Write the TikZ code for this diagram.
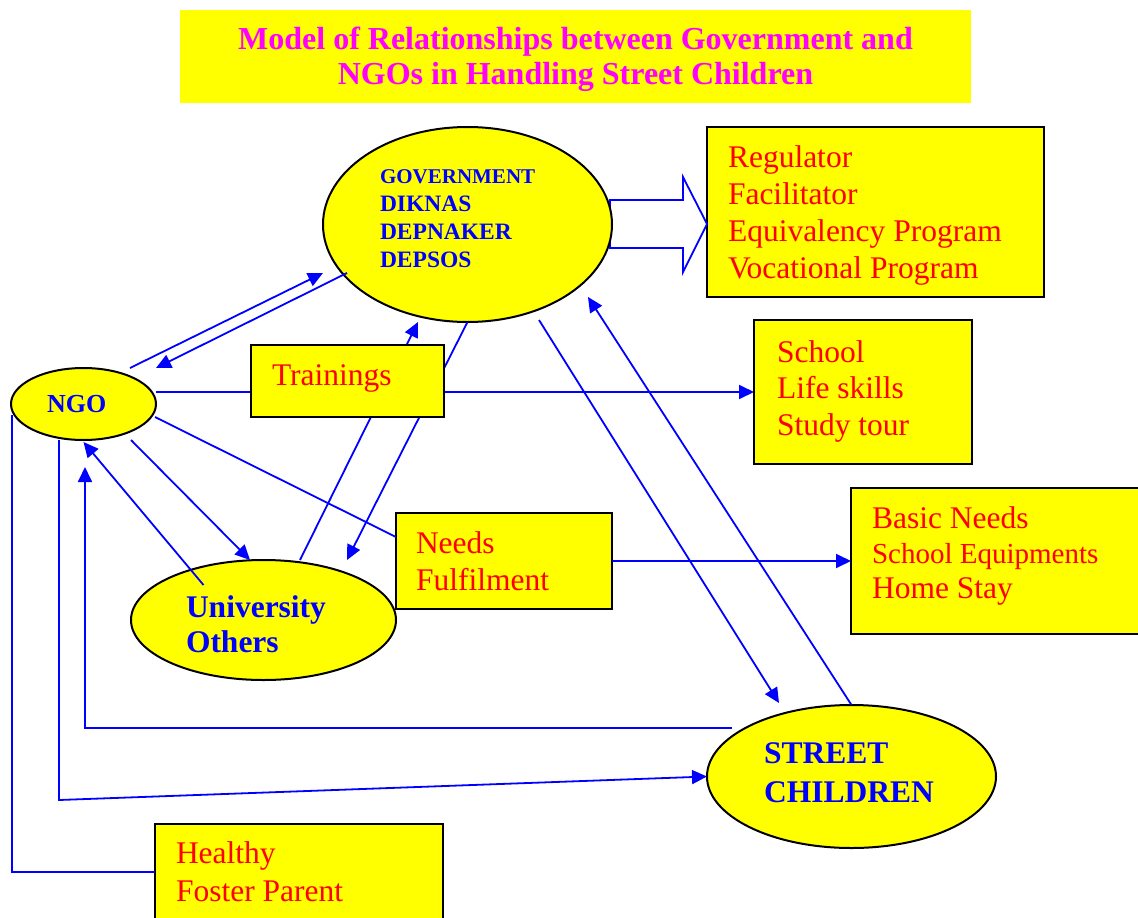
\documentclass[tikz,border=0pt]{standalone}
\usepackage{fontspec}
\setmainfont{Liberation Serif}
\usetikzlibrary{arrows.meta,calc,shapes.geometric}

\definecolor{fillyellow}{RGB}{255,255,0}
\definecolor{linkblue}{RGB}{0,0,255}
\definecolor{textred}{RGB}{255,0,0}
\definecolor{titlemagenta}{RGB}{255,0,255}

% multi-line texts are placed by the baseline of their last line
\tikzset{
  every node/.style={inner sep=0pt, outer sep=0pt},
  ybox/.style={rectangle, draw=black, line width=2.2pt, fill=fillyellow, anchor=north west},
  yoval/.style={ellipse, draw=black, line width=2pt, fill=fillyellow},
  link/.style={draw=linkblue, line width=1.8pt},
  arr/.style={link, -{Triangle[length=15pt,width=14pt]}},
  redtxt/.style={text=textred, font=\fontsize{31.5}{37}\selectfont, align=left, anchor=base west},
  bluetxt/.style={text=linkblue, font=\fontsize{31.5}{37}\selectfont\bfseries, align=left, anchor=base west},
}

\begin{document}
\begin{tikzpicture}[x=1pt, y=-1pt]
  \useasboundingbox (0,0) rectangle (1138,918);
  \fill[white] (0,0) rectangle (1138,918);
  \clip (0,0) rectangle (1138,918);

  % boxes and ovals
  \node[ybox, draw=none, minimum width=791, minimum height=93] (title) at (180,10) {};
  \node[ybox, minimum width=337, minimum height=170] (reg) at (707,127) {};
  \node[ybox, minimum width=218, minimum height=144] (school) at (754,320) {};
  \node[ybox, minimum width=300, minimum height=146] (basic) at (851,488) {};
  \node[ybox, minimum width=216, minimum height=96] (needs) at (396,513) {};
  \node[ybox, minimum width=288, minimum height=120] (healthy) at (155,824) {};

  % hollow block arrow from the government to its roles
  \coordinate (bt) at ($(reg.west)+(0,12)$);
  \draw[linkblue, line width=1.8pt, fill=white, line join=miter]
    ($(bt)+(-97,-24)$) -- ($(bt)+(-24,-24)$) -- ($(bt)+(-24,-47)$) -- (bt)
    -- ($(bt)+(-24,48)$) -- ($(bt)+(-24,24)$) -- ($(bt)+(-97,24)$) -- cycle;

  \node[yoval, minimum width=289, minimum height=195] (gov) at (467.5,224.5) {};
  \node[yoval, minimum width=145, minimum height=72] (ngo) at (83.5,404) {};
  \node[yoval, minimum width=265, minimum height=120] (univ) at (263.5,620) {};
  \node[yoval, minimum width=289, minimum height=143] (street) at (851.5,776.5) {};

  % texts
  \node[text=titlemagenta, font=\fontsize{32}{35}\selectfont\bfseries, align=center, anchor=base]
    (titletext) at (575.5,84) {Model of Relationships between Government and\\NGOs in Handling Street Children};
  \node[bluetxt, font=\fontsize{23.5}{28}\selectfont\bfseries] (govtext) at (380,267)
    {{\fontsize{21}{28}\selectfont GOVERNMENT}\\DIKNAS\\DEPNAKER\\DEPSOS};
  \node[bluetxt, font=\fontsize{26}{30}\selectfont\bfseries] (ngotext) at (47,412) {NGO};
  \node[bluetxt, font=\fontsize{31.5}{35}\selectfont\bfseries] (univtext) at (186,652) {University\\Others};
  \node[bluetxt, font=\fontsize{31.5}{39}\selectfont\bfseries] (streettext) at (764,802) {STREET\\CHILDREN};
  \node[redtxt, font=\fontsize{31.5}{36.7}\selectfont] (regtext) at (728,278)
    {Regulator\\Facilitator\\Equivalency Program\\Vocational Program};
  \node[redtxt, font=\fontsize{31.5}{36.5}\selectfont] (schooltext) at (777,435)
    {School\\Life skills\\Study tour};
  \node[redtxt] (needstext) at (416,590) {Needs\\Fulfilment};
  \node[redtxt, font=\fontsize{31.5}{35}\selectfont] (basictext) at (872,598)
    {Basic Needs\\{\fontsize{29}{35}\selectfont School Equipments}\\Home Stay};
  \node[redtxt, font=\fontsize{31.5}{38.5}\selectfont] (healthytext) at (176,901.5) {Healthy\\Foster Parent};

  % connectors
  \draw[arr] ($(ngo.center)+(46.5,-36)$) -- ($(gov.center)+(-144.5,48.5)$);
  \draw[arr] ($(gov.center)+(-120.5,48.5)$) -- ($(ngo.center)+(72.5,-36)$);
  \draw[arr] (school.west -| ngo.east) -- (school.west);
  \draw[arr] ($(univ.north)+(36.5,0)$) -- ($(gov.south)+(-49.5,0)$);
  \draw[arr] (gov.south) -- ($(univ.north)+(83.5,0)$);
  \draw[arr] ($(ngo.south)+(47.5,0)$) -- ($(univ.north)+(-13.5,0)$);
  \draw[arr] ($(univ.center)+(-60,-35)$) -- ($(ngo.south)+(0,2)$);
  \draw[link] ($(ngo.center)+(71.5,13)$) -- ($(needs.west)+(0,-24)$);
  \draw[arr] (needs.east) -- (basic.west);
  \draw[arr] ($(gov.center)+(71.5,95.5)$) -- ($(street.center)+(-72.5,-73.5)$);
  \draw[arr] (street.north) -- ($(gov.center)+(120.5,72.5)$);
  \draw[arr] ($(street.center)+(-119.5,-48.5)$) -| ($(ngo.south)+(1.5,27)$);
  \draw[arr] ($(ngo.south)+(-24.5,0)$) -- ++(0,360) -- (street.west);
  \draw[link] ($(ngo.center)+(-71.5,11)$) |- ($(healthy.north west)+(0,48)$);

  % trainings box lies over the lines that cross it
  \node[ybox, minimum width=193, minimum height=72] (train) at (251,345) {};
  \node[redtxt] (traintext) at (272,385) {Trainings};
\end{tikzpicture}
\end{document}
